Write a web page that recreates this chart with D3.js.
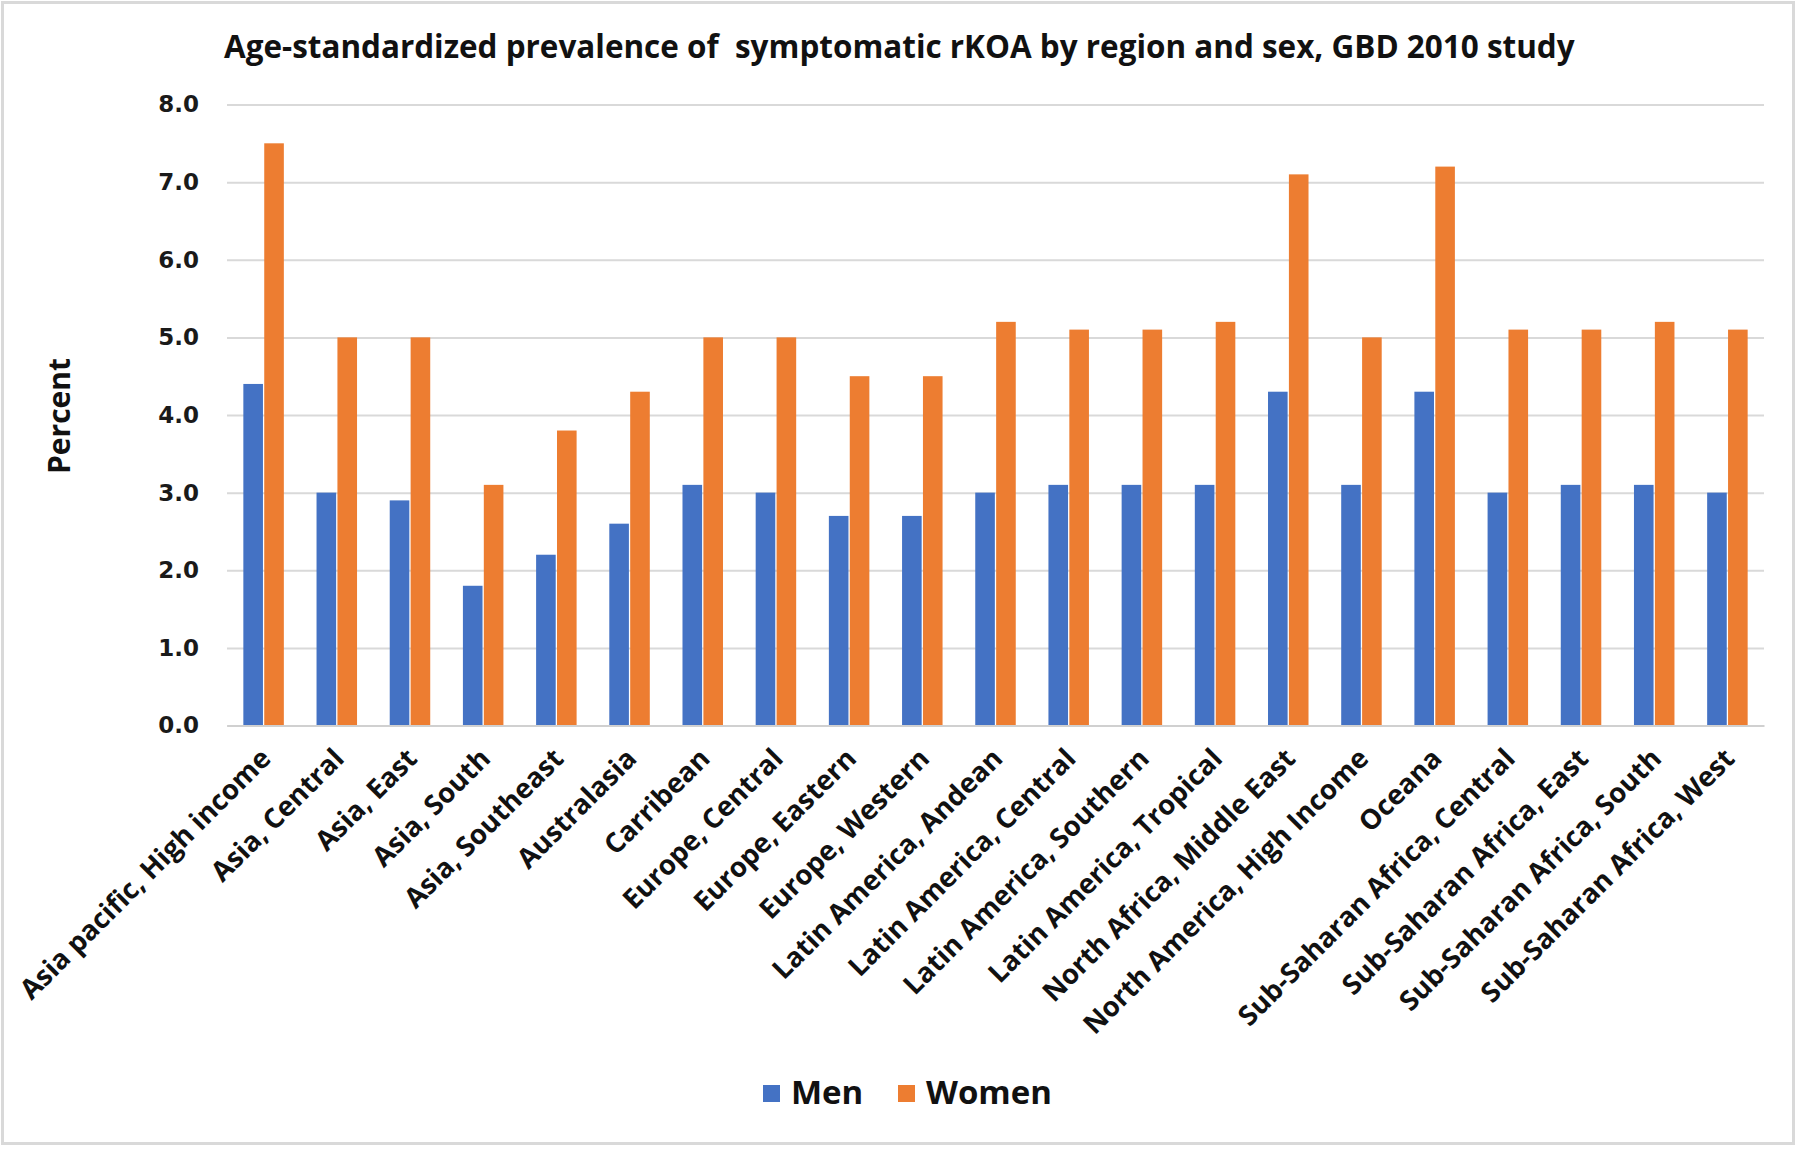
<!DOCTYPE html>
<html><head><meta charset="utf-8">
<script src="https://cdn.jsdelivr.net/npm/d3@7"></script>
<style>body{margin:0;background:#fff}svg{display:block}</style>
</head><body>
<svg id="chart" width="1800" height="1149"></svg>
<script>
const categories = ["Asia pacific, High income","Asia, Central","Asia, East","Asia, South","Asia, Southeast","Australasia","Carribean","Europe, Central","Europe, Eastern","Europe, Western","Latin America, Andean","Latin America, Central","Latin America, Southern","Latin America, Tropical","North Africa, Middle East","North America, High Income","Oceana","Sub-Saharan Africa, Central","Sub-Saharan Africa, East","Sub-Saharan Africa, South","Sub-Saharan Africa, West"];
const men = [4.4,3.0,2.9,1.8,2.2,2.6,3.1,3.0,2.7,2.7,3.0,3.1,3.1,3.1,4.3,3.1,4.3,3.0,3.1,3.1,3.0];
const women = [7.5,5.0,5.0,3.1,3.8,4.3,5.0,5.0,4.5,4.5,5.2,5.1,5.1,5.2,7.1,5.0,7.2,5.1,5.1,5.2,5.1];
const seriesNames = ["Men","Women"];
const yTicks = [0,1,2,3,4,5,6,7,8];
const title = "Age-standardized prevalence of  symptomatic rKOA by region and sex, GBD 2010 study";
const yLabel = "Percent";

const colors = {Men:"#4472C4", Women:"#ED7D31"};
const svg = d3.select("#chart");
const W = 1800, H = 1149;
const m = {left:227, right:36, top:104.5, bottom:H-725.5};

svg.append("rect").attr("x",2.5).attr("y",2.5).attr("width",W-9).attr("height",H-8)
  .attr("fill","#fff").attr("stroke","#d9d9d9").attr("stroke-width",3);

const x = d3.scaleBand().domain(categories).range([m.left, W-m.right]);
const y = d3.scaleLinear().domain([0,8]).range([H-m.bottom, m.top]);
const barW = 19, gap = 2.5;
const x1 = d3.scaleBand().domain(seriesNames).range([0, 2*barW+gap]).paddingInner(gap/(2*barW+gap));

// gridlines
const yAxis = d3.axisLeft(y).tickValues(yTicks).tickSize(-(W-m.right-m.left)).tickFormat(d3.format(".1f")).tickPadding(28);
const gy = svg.append("g").attr("transform",`translate(${m.left},0)`).call(yAxis);
gy.select(".domain").remove();
gy.selectAll(".tick line").attr("stroke","#d9d9d9").attr("stroke-width",2);
gy.selectAll(".tick text").attr("font-family","'DejaVu Sans'").attr("font-weight","bold").attr("font-size",23).attr("fill","#1a1a1a");

// bars
const data = categories.map((c,i)=>({cat:c, vals:[{s:"Men",v:men[i]},{s:"Women",v:women[i]}]}));
const groups = svg.append("g").selectAll("g").data(data).join("g")
  .attr("transform",d=>`translate(${x(d.cat)+(x.bandwidth()-(2*barW+gap))/2},0)`);
groups.selectAll("rect").data(d=>d.vals).join("rect")
  .attr("x",d=>x1(d.s)).attr("width",x1.bandwidth())
  .attr("y",d=>y(d.v)).attr("height",d=>y(0)-y(d.v))
  .attr("fill",d=>colors[d.s]);

// x axis
const xAxis = d3.axisBottom(x).tickSize(0).tickPadding(0);
const gx = svg.append("g").attr("transform",`translate(0,${y(0)})`).call(xAxis);
gx.select(".domain").attr("stroke","#d0d0d0").attr("stroke-width",2);
gx.selectAll(".tick text")
  .attr("font-family","'Open Sans'").attr("font-weight","bold").attr("font-size",27.5).attr("fill","#111")
  .attr("text-anchor","end").attr("dy","0.35em")
  .attr("transform","translate(2,28) rotate(-45)");

// title
const t = svg.append("text").attr("x",224).attr("y",58).attr("font-family","'Open Sans'")
  .attr("font-weight","bold").attr("font-size",28).attr("fill","#111")
  .style("white-space","pre").text(title);
const tw = t.node().getComputedTextLength();
t.attr("font-size", 28*1351/tw);

// y label
svg.append("text").attr("transform","translate(70,416) rotate(-90)").attr("text-anchor","middle")
  .attr("font-family","'Open Sans'").attr("font-weight","bold").attr("font-size",30).attr("fill","#111").text(yLabel);

// legend
const leg = svg.append("g");
const legX = [763, 898];
seriesNames.forEach((s,i)=>{
  leg.append("rect").attr("x",legX[i]).attr("y",1085).attr("width",17).attr("height",17).attr("fill",colors[s]);
  leg.append("text").attr("x",legX[i]+28).attr("y",1104).attr("font-family","'Open Sans'").attr("font-weight","bold")
    .attr("font-size",33).attr("fill","#111").text(s);
});
</script>
</body></html>
